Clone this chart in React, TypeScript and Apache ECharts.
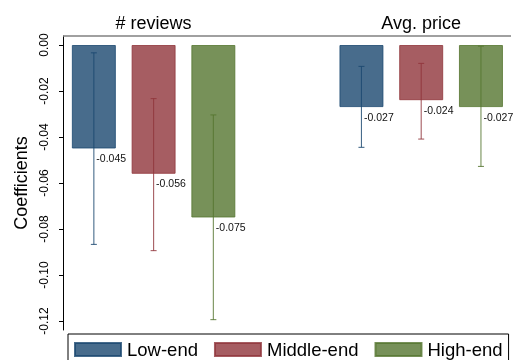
import React, { useEffect, useRef } from 'react';
import * as echarts from 'echarts';

const categories = ['# reviews', 'Avg. price'];
const tiers = ['Low-end', 'Middle-end', 'High-end'];
const estimates = [
  [-0.045, -0.027],
  [-0.056, -0.024],
  [-0.075, -0.027],
];
const lowerCI = [
  [-0.0867, -0.0445],
  [-0.0894, -0.0409],
  [-0.1194, -0.0528],
];
const upperCI = [
  [-0.0034, -0.0093],
  [-0.0233, -0.008],
  [-0.0304, -0.0005],
];
const yTicks = [0, -0.02, -0.04, -0.06, -0.08, -0.1, -0.12];

const colors = ['rgba(26,71,111,0.8)', 'rgba(144,53,59,0.8)', 'rgba(85,117,47,0.8)'];
const FONT = 'Liberation Sans, Arial, sans-serif';
const BAR_W = 44;
const GAP_PX = 15.75;

export default function App() {
  const ref = useRef<HTMLDivElement>(null);
  useEffect(() => {
    if (!ref.current) return;
    const chart = echarts.init(ref.current, undefined, { renderer: 'svg' });
    const barSeries = tiers.map((name, i) => ({
      type: 'bar',
      name,
      data: estimates[i],
      barWidth: BAR_W,
      barGap: `${(GAP_PX / BAR_W) * 100}%`,
      clip: false,
      z: 2,
      itemStyle: { color: colors[i], borderColor: colors[i], borderWidth: 1 },
    }));
    const errSeries = tiers.map((name, i) => ({
      type: 'custom',
      name: name + ' CI',
      clip: false,
      z: 3,
      data: categories.map((c, j) => [j, lowerCI[i][j], upperCI[i][j], estimates[i][j]]),
      encode: { x: 0, y: [1, 2, 3] },
      renderItem: (params: any, api: any) => {
        const x = api.value(0);
        const lo = api.coord([x, api.value(1)]);
        const hi = api.coord([x, api.value(2)]);
        const est = api.coord([x, api.value(3)]);
        const cx = lo[0] + (i - 1) * (BAR_W + GAP_PX);
        const st = { stroke: colors[i], lineWidth: 1.1 };
        return {
          type: 'group',
          children: [
            { type: 'line', shape: { x1: cx, y1: hi[1], x2: cx, y2: lo[1] }, style: st },
            { type: 'line', shape: { x1: cx - 3, y1: hi[1], x2: cx + 3, y2: hi[1] }, style: st },
            { type: 'line', shape: { x1: cx - 3, y1: lo[1], x2: cx + 3, y2: lo[1] }, style: st },
            {
              type: 'text',
              x: cx + 2.5,
              y: est[1] + 9.5,
              style: {
                text: Number(api.value(3)).toFixed(3),
                fontSize: 10.5,
                fontFamily: FONT,
                fill: '#111',
                align: 'left',
                verticalAlign: 'middle',
              },
            },
          ],
        };
      },
    }));
    chart.setOption({
      animation: false,
      textStyle: { fontFamily: FONT },
      grid: { left: 153.6, right: 91.8, top: 36, bottom: 30, containLabel: false, outerBoundsMode: 'none' },
      xAxis: {
        type: 'category',
        data: categories,
        position: 'top',
        boundaryGap: false,
        axisLine: { show: false, onZero: false },
        axisTick: { show: false },
        splitLine: { show: false },
        axisLabel: { fontSize: 18, color: '#000', margin: 3.6, interval: 0, fontFamily: FONT },
      },
      yAxis: {
        type: 'value',
        min: -0.12391,
        max: 0.003913,
        position: 'left',
        offset: 90.6,
        axisLine: { show: true, onZero: false, lineStyle: { color: '#000', width: 1 } },
        axisTick: { show: true, length: 4, customValues: yTicks, lineStyle: { color: '#000' } },
        axisLabel: {
          customValues: yTicks,
          rotate: 90,
          margin: 13.5,
          fontSize: 12,
          color: '#000',
          fontFamily: FONT,
          formatter: (v: number) => v.toFixed(2),
        },
        splitLine: { show: false },
        name: 'Coefficients',
        nameLocation: 'middle',
        nameGap: 32.6,
        nameTextStyle: { fontSize: 18, color: '#000', fontFamily: FONT },
      },
      legend: {
        data: tiers,
        left: 68,
        top: 334,
        padding: 6,
        icon: 'rect',
        itemWidth: 46,
        itemHeight: 13,
        itemGap: 16,
        borderColor: '#000',
        borderWidth: 1,
        textStyle: { fontSize: 18.5, color: '#000', fontFamily: FONT, padding: [0, 0, 0, 1] },
      },
      graphic: [
        {
          type: 'line',
          shape: { x1: 63, y1: 36, x2: 511, y2: 36 },
          style: { stroke: '#808080', lineWidth: 1.5 },
          z: 10,
        },
      ],
      series: [...barSeries, ...errSeries],
    });
    return () => chart.dispose();
  }, []);
  return <div ref={ref} style={{ position: 'fixed', left: 0, top: 0, width: 513, height: 360 }} />;
}
